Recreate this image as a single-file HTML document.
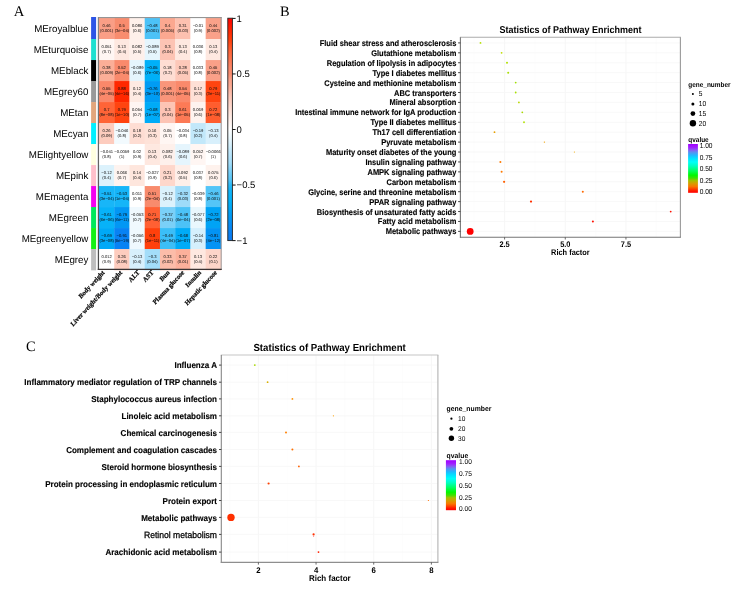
<!DOCTYPE html>
<html><head><meta charset="utf-8"><title>Figure</title>
<style>html,body{margin:0;padding:0;background:#fff;width:740px;height:589px;overflow:hidden}svg{display:block;will-change:transform}</style>
</head><body>
<svg width="740" height="589" viewBox="0 0 740 589" text-rendering="geometricPrecision">
<rect width="740" height="589" fill="#fff"/>
<g id="A">
<text x="13.8" y="15.8" font-family="'Liberation Serif', 'Times New Roman', serif" font-size="14.7">A</text>
<rect x="99.00" y="18.05" width="15.54" height="21.30" fill="#FA9E86"/>
<rect x="114.24" y="18.05" width="15.54" height="21.30" fill="#F88C6E"/>
<rect x="129.47" y="18.05" width="15.54" height="21.30" fill="#FEF0EA"/>
<rect x="144.71" y="18.05" width="15.54" height="21.30" fill="#4CC2F7"/>
<rect x="159.95" y="18.05" width="15.54" height="21.30" fill="#FBA890"/>
<rect x="175.19" y="18.05" width="15.54" height="21.30" fill="#FDC1B0"/>
<rect x="190.43" y="18.05" width="15.54" height="21.30" fill="#FFFFFF"/>
<rect x="205.66" y="18.05" width="15.54" height="21.30" fill="#FAA189"/>
<rect x="99.00" y="39.05" width="15.54" height="21.30" fill="#FFF6F3"/>
<rect x="114.24" y="39.05" width="15.54" height="21.30" fill="#FEE8E0"/>
<rect x="129.47" y="39.05" width="15.54" height="21.30" fill="#FEF0EB"/>
<rect x="144.71" y="39.05" width="15.54" height="21.30" fill="#E5F5FD"/>
<rect x="159.95" y="39.05" width="15.54" height="21.30" fill="#FDC4B4"/>
<rect x="175.19" y="39.05" width="15.54" height="21.30" fill="#FEE8E0"/>
<rect x="190.43" y="39.05" width="15.54" height="21.30" fill="#FFFFFF"/>
<rect x="205.66" y="39.05" width="15.54" height="21.30" fill="#FEE8E0"/>
<rect x="99.00" y="60.05" width="15.54" height="21.30" fill="#FBAE97"/>
<rect x="114.24" y="60.05" width="15.54" height="21.30" fill="#F98A6C"/>
<rect x="129.47" y="60.05" width="15.54" height="21.30" fill="#E5F5FD"/>
<rect x="144.71" y="60.05" width="15.54" height="21.30" fill="#00B0F8"/>
<rect x="159.95" y="60.05" width="15.54" height="21.30" fill="#FEDDD3"/>
<rect x="175.19" y="60.05" width="15.54" height="21.30" fill="#FDC8B9"/>
<rect x="190.43" y="60.05" width="15.54" height="21.30" fill="#FFFFFF"/>
<rect x="205.66" y="60.05" width="15.54" height="21.30" fill="#FAA088"/>
<rect x="99.00" y="81.05" width="15.54" height="21.30" fill="#FA886A"/>
<rect x="114.24" y="81.05" width="15.54" height="21.30" fill="#FF2800"/>
<rect x="129.47" y="81.05" width="15.54" height="21.30" fill="#FEEAE2"/>
<rect x="144.71" y="81.05" width="15.54" height="21.30" fill="#009CF4"/>
<rect x="159.95" y="81.05" width="15.54" height="21.30" fill="#F9957A"/>
<rect x="175.19" y="81.05" width="15.54" height="21.30" fill="#FA896B"/>
<rect x="190.43" y="81.05" width="15.54" height="21.30" fill="#FEE0D6"/>
<rect x="205.66" y="81.05" width="15.54" height="21.30" fill="#FF4410"/>
<rect x="99.00" y="102.05" width="15.54" height="21.30" fill="#FF6437"/>
<rect x="114.24" y="102.05" width="15.54" height="21.30" fill="#FF4410"/>
<rect x="129.47" y="102.05" width="15.54" height="21.30" fill="#FFF5F2"/>
<rect x="144.71" y="102.05" width="15.54" height="21.30" fill="#00ABF7"/>
<rect x="159.95" y="102.05" width="15.54" height="21.30" fill="#FDC4B4"/>
<rect x="175.19" y="102.05" width="15.54" height="21.30" fill="#FC7A56"/>
<rect x="190.43" y="102.05" width="15.54" height="21.30" fill="#FEF3EF"/>
<rect x="205.66" y="102.05" width="15.54" height="21.30" fill="#FF5D2E"/>
<rect x="99.00" y="123.05" width="15.54" height="21.30" fill="#FDCCBE"/>
<rect x="114.24" y="123.05" width="15.54" height="21.30" fill="#F2FAFE"/>
<rect x="129.47" y="123.05" width="15.54" height="21.30" fill="#FEDDD3"/>
<rect x="144.71" y="123.05" width="15.54" height="21.30" fill="#FEE2D8"/>
<rect x="159.95" y="123.05" width="15.54" height="21.30" fill="#FFF6F3"/>
<rect x="175.19" y="123.05" width="15.54" height="21.30" fill="#FFFFFF"/>
<rect x="190.43" y="123.05" width="15.54" height="21.30" fill="#C2E8FA"/>
<rect x="205.66" y="123.05" width="15.54" height="21.30" fill="#D8F0FC"/>
<rect x="99.00" y="144.05" width="15.54" height="21.30" fill="#FFFFFF"/>
<rect x="114.24" y="144.05" width="15.54" height="21.30" fill="#FFFFFF"/>
<rect x="129.47" y="144.05" width="15.54" height="21.30" fill="#FFFFFF"/>
<rect x="144.71" y="144.05" width="15.54" height="21.30" fill="#FEE8E0"/>
<rect x="159.95" y="144.05" width="15.54" height="21.30" fill="#FEF0EB"/>
<rect x="175.19" y="144.05" width="15.54" height="21.30" fill="#E5F5FD"/>
<rect x="190.43" y="144.05" width="15.54" height="21.30" fill="#FFF6F3"/>
<rect x="205.66" y="144.05" width="15.54" height="21.30" fill="#FFFFFF"/>
<rect x="99.00" y="165.05" width="15.54" height="21.30" fill="#DCF2FC"/>
<rect x="114.24" y="165.05" width="15.54" height="21.30" fill="#FEF3EF"/>
<rect x="129.47" y="165.05" width="15.54" height="21.30" fill="#FEE6DD"/>
<rect x="144.71" y="165.05" width="15.54" height="21.30" fill="#FFFFFF"/>
<rect x="159.95" y="165.05" width="15.54" height="21.30" fill="#FED7CB"/>
<rect x="175.19" y="165.05" width="15.54" height="21.30" fill="#FEEFE9"/>
<rect x="190.43" y="165.05" width="15.54" height="21.30" fill="#FFFFFF"/>
<rect x="205.66" y="165.05" width="15.54" height="21.30" fill="#FEF2ED"/>
<rect x="99.00" y="186.05" width="15.54" height="21.30" fill="#18B6F8"/>
<rect x="114.24" y="186.05" width="15.54" height="21.30" fill="#15B5F8"/>
<rect x="129.47" y="186.05" width="15.54" height="21.30" fill="#FFFFFF"/>
<rect x="144.71" y="186.05" width="15.54" height="21.30" fill="#F88B6D"/>
<rect x="159.95" y="186.05" width="15.54" height="21.30" fill="#DCF2FC"/>
<rect x="175.19" y="186.05" width="15.54" height="21.30" fill="#9EDBF9"/>
<rect x="190.43" y="186.05" width="15.54" height="21.30" fill="#FFFFFF"/>
<rect x="205.66" y="186.05" width="15.54" height="21.30" fill="#54C5F7"/>
<rect x="99.00" y="207.05" width="15.54" height="21.30" fill="#07B2F8"/>
<rect x="114.24" y="207.05" width="15.54" height="21.30" fill="#0297F4"/>
<rect x="129.47" y="207.05" width="15.54" height="21.30" fill="#F0F9FE"/>
<rect x="144.71" y="207.05" width="15.54" height="21.30" fill="#FF6033"/>
<rect x="159.95" y="207.05" width="15.54" height="21.30" fill="#7AD0F8"/>
<rect x="175.19" y="207.05" width="15.54" height="21.30" fill="#4CC2F7"/>
<rect x="190.43" y="207.05" width="15.54" height="21.30" fill="#E9F7FD"/>
<rect x="205.66" y="207.05" width="15.54" height="21.30" fill="#00A3F5"/>
<rect x="99.00" y="228.05" width="15.54" height="21.30" fill="#00A9F7"/>
<rect x="114.24" y="228.05" width="15.54" height="21.30" fill="#0882F4"/>
<rect x="129.47" y="228.05" width="15.54" height="21.30" fill="#EFF9FE"/>
<rect x="144.71" y="228.05" width="15.54" height="21.30" fill="#FF400C"/>
<rect x="159.95" y="228.05" width="15.54" height="21.30" fill="#3BBEF7"/>
<rect x="175.19" y="228.05" width="15.54" height="21.30" fill="#00ABF7"/>
<rect x="190.43" y="228.05" width="15.54" height="21.30" fill="#D4EFFC"/>
<rect x="205.66" y="228.05" width="15.54" height="21.30" fill="#0393F4"/>
<rect x="99.00" y="249.05" width="15.54" height="21.30" fill="#FFFFFF"/>
<rect x="114.24" y="249.05" width="15.54" height="21.30" fill="#FDCCBE"/>
<rect x="129.47" y="249.05" width="15.54" height="21.30" fill="#D8F0FC"/>
<rect x="144.71" y="249.05" width="15.54" height="21.30" fill="#A3DDF9"/>
<rect x="159.95" y="249.05" width="15.54" height="21.30" fill="#FCBCA9"/>
<rect x="175.19" y="249.05" width="15.54" height="21.30" fill="#FCB09B"/>
<rect x="190.43" y="249.05" width="15.54" height="21.30" fill="#FEE8E0"/>
<rect x="205.66" y="249.05" width="15.54" height="21.30" fill="#FDD5C9"/>
<defs><filter id="sb" x="-5%" y="-5%" width="110%" height="110%"><feGaussianBlur stdDeviation="0.22"/></filter></defs>
<g filter="url(#sb)"><g font-family="'Liberation Sans', Arial, Helvetica, sans-serif" font-size="20.75" fill="#111" text-rendering="geometricPrecision" text-anchor="middle" transform="scale(0.2)">
<text x="533.1" y="133.8">0.46</text><text x="533.1" y="160.2">(0.001)</text>
<text x="609.3" y="133.8">0.5</text><text x="609.3" y="160.2">(3e−04)</text>
<text x="685.5" y="133.8">0.086</text><text x="685.5" y="160.2">(0.6)</text>
<text x="761.7" y="133.8">−0.48</text><text x="761.7" y="160.2">(0.001)</text>
<text x="837.8" y="133.8">0.4</text><text x="837.8" y="160.2">(0.005)</text>
<text x="914.0" y="133.8">0.31</text><text x="914.0" y="160.2">(0.03)</text>
<text x="990.2" y="133.8">−0.01</text><text x="990.2" y="160.2">(0.9)</text>
<text x="1066.4" y="133.8">0.44</text><text x="1066.4" y="160.2">(0.002)</text>
<text x="533.1" y="238.8">0.051</text><text x="533.1" y="265.2">(0.7)</text>
<text x="609.3" y="238.8">0.13</text><text x="609.3" y="265.2">(0.4)</text>
<text x="685.5" y="238.8">0.082</text><text x="685.5" y="265.2">(0.5)</text>
<text x="761.7" y="238.8">−0.089</text><text x="761.7" y="265.2">(0.5)</text>
<text x="837.8" y="238.8">0.3</text><text x="837.8" y="265.2">(0.04)</text>
<text x="914.0" y="238.8">0.13</text><text x="914.0" y="265.2">(0.4)</text>
<text x="990.2" y="238.8">0.036</text><text x="990.2" y="265.2">(0.8)</text>
<text x="1066.4" y="238.8">0.13</text><text x="1066.4" y="265.2">(0.4)</text>
<text x="533.1" y="343.8">0.38</text><text x="533.1" y="370.2">(0.009)</text>
<text x="609.3" y="343.8">0.52</text><text x="609.3" y="370.2">(2e−04)</text>
<text x="685.5" y="343.8">−0.089</text><text x="685.5" y="370.2">(0.6)</text>
<text x="761.7" y="343.8">−0.65</text><text x="761.7" y="370.2">(7e−06)</text>
<text x="837.8" y="343.8">0.18</text><text x="837.8" y="370.2">(0.2)</text>
<text x="914.0" y="343.8">0.28</text><text x="914.0" y="370.2">(0.05)</text>
<text x="990.2" y="343.8">0.033</text><text x="990.2" y="370.2">(0.8)</text>
<text x="1066.4" y="343.8">0.45</text><text x="1066.4" y="370.2">(0.002)</text>
<text x="533.1" y="448.8">0.55</text><text x="533.1" y="475.2">(4e−05)</text>
<text x="609.3" y="448.8">0.88</text><text x="609.3" y="475.2">(4e−16)</text>
<text x="685.5" y="448.8">0.12</text><text x="685.5" y="475.2">(0.4)</text>
<text x="761.7" y="448.8">−0.76</text><text x="761.7" y="475.2">(3e−10)</text>
<text x="837.8" y="448.8">0.48</text><text x="837.8" y="475.2">(0.001)</text>
<text x="914.0" y="448.8">0.54</text><text x="914.0" y="475.2">(4e−05)</text>
<text x="990.2" y="448.8">0.17</text><text x="990.2" y="475.2">(0.3)</text>
<text x="1066.4" y="448.8">0.79</text><text x="1066.4" y="475.2">(3e−11)</text>
<text x="533.1" y="553.8">0.7</text><text x="533.1" y="580.2">(8e−08)</text>
<text x="609.3" y="553.8">0.79</text><text x="609.3" y="580.2">(1e−10)</text>
<text x="685.5" y="553.8">0.054</text><text x="685.5" y="580.2">(0.7)</text>
<text x="761.7" y="553.8">−0.68</text><text x="761.7" y="580.2">(1e−07)</text>
<text x="837.8" y="553.8">0.3</text><text x="837.8" y="580.2">(0.04)</text>
<text x="914.0" y="553.8">0.61</text><text x="914.0" y="580.2">(1e−05)</text>
<text x="990.2" y="553.8">0.069</text><text x="990.2" y="580.2">(0.6)</text>
<text x="1066.4" y="553.8">0.72</text><text x="1066.4" y="580.2">(1e−08)</text>
<text x="533.1" y="658.8">0.26</text><text x="533.1" y="685.2">(0.09)</text>
<text x="609.3" y="658.8">−0.046</text><text x="609.3" y="685.2">(0.8)</text>
<text x="685.5" y="658.8">0.18</text><text x="685.5" y="685.2">(0.2)</text>
<text x="761.7" y="658.8">0.16</text><text x="761.7" y="685.2">(0.3)</text>
<text x="837.8" y="658.8">0.05</text><text x="837.8" y="685.2">(0.7)</text>
<text x="914.0" y="658.8">−0.034</text><text x="914.0" y="685.2">(0.8)</text>
<text x="990.2" y="658.8">−0.19</text><text x="990.2" y="685.2">(0.2)</text>
<text x="1066.4" y="658.8">−0.13</text><text x="1066.4" y="685.2">(0.4)</text>
<text x="533.1" y="763.8">−0.041</text><text x="533.1" y="790.2">(0.8)</text>
<text x="609.3" y="763.8">−0.0059</text><text x="609.3" y="790.2">(1)</text>
<text x="685.5" y="763.8">0.02</text><text x="685.5" y="790.2">(0.9)</text>
<text x="761.7" y="763.8">0.13</text><text x="761.7" y="790.2">(0.4)</text>
<text x="837.8" y="763.8">0.082</text><text x="837.8" y="790.2">(0.6)</text>
<text x="914.0" y="763.8">−0.089</text><text x="914.0" y="790.2">(0.6)</text>
<text x="990.2" y="763.8">0.052</text><text x="990.2" y="790.2">(0.7)</text>
<text x="1066.4" y="763.8">−0.0066</text><text x="1066.4" y="790.2">(1)</text>
<text x="533.1" y="868.8">−0.12</text><text x="533.1" y="895.2">(0.4)</text>
<text x="609.3" y="868.8">0.066</text><text x="609.3" y="895.2">(0.7)</text>
<text x="685.5" y="868.8">0.14</text><text x="685.5" y="895.2">(0.4)</text>
<text x="761.7" y="868.8">−0.027</text><text x="761.7" y="895.2">(0.9)</text>
<text x="837.8" y="868.8">0.21</text><text x="837.8" y="895.2">(0.2)</text>
<text x="914.0" y="868.8">0.092</text><text x="914.0" y="895.2">(0.5)</text>
<text x="990.2" y="868.8">0.037</text><text x="990.2" y="895.2">(0.8)</text>
<text x="1066.4" y="868.8">0.075</text><text x="1066.4" y="895.2">(0.6)</text>
<text x="533.1" y="973.8">−0.51</text><text x="533.1" y="1000.2">(3e−04)</text>
<text x="609.3" y="973.8">−0.53</text><text x="609.3" y="1000.2">(1e−04)</text>
<text x="685.5" y="973.8">0.011</text><text x="685.5" y="1000.2">(0.9)</text>
<text x="761.7" y="973.8">0.51</text><text x="761.7" y="1000.2">(2e−04)</text>
<text x="837.8" y="973.8">−0.12</text><text x="837.8" y="1000.2">(0.4)</text>
<text x="914.0" y="973.8">−0.32</text><text x="914.0" y="1000.2">(0.03)</text>
<text x="990.2" y="973.8">−0.039</text><text x="990.2" y="1000.2">(0.8)</text>
<text x="1066.4" y="973.8">−0.46</text><text x="1066.4" y="1000.2">(0.001)</text>
<text x="533.1" y="1078.8">−0.61</text><text x="533.1" y="1105.2">(6e−06)</text>
<text x="609.3" y="1078.8">−0.79</text><text x="609.3" y="1105.2">(6e−11)</text>
<text x="685.5" y="1078.8">−0.053</text><text x="685.5" y="1105.2">(0.7)</text>
<text x="761.7" y="1078.8">0.71</text><text x="761.7" y="1105.2">(2e−08)</text>
<text x="837.8" y="1078.8">−0.37</text><text x="837.8" y="1105.2">(0.01)</text>
<text x="914.0" y="1078.8">−0.48</text><text x="914.0" y="1105.2">(6e−04)</text>
<text x="990.2" y="1078.8">−0.077</text><text x="990.2" y="1105.2">(0.6)</text>
<text x="1066.4" y="1078.8">−0.72</text><text x="1066.4" y="1105.2">(2e−08)</text>
<text x="533.1" y="1183.8">−0.69</text><text x="533.1" y="1210.2">(3e−08)</text>
<text x="609.3" y="1183.8">−0.91</text><text x="609.3" y="1210.2">(5e−19)</text>
<text x="685.5" y="1183.8">−0.056</text><text x="685.5" y="1210.2">(0.7)</text>
<text x="761.7" y="1183.8">0.8</text><text x="761.7" y="1210.2">(1e−11)</text>
<text x="837.8" y="1183.8">−0.49</text><text x="837.8" y="1210.2">(4e−04)</text>
<text x="914.0" y="1183.8">−0.68</text><text x="914.0" y="1210.2">(1e−07)</text>
<text x="990.2" y="1183.8">−0.14</text><text x="990.2" y="1210.2">(0.3)</text>
<text x="1066.4" y="1183.8">−0.81</text><text x="1066.4" y="1210.2">(4e−12)</text>
<text x="533.1" y="1288.8">0.012</text><text x="533.1" y="1315.2">(0.9)</text>
<text x="609.3" y="1288.8">0.26</text><text x="609.3" y="1315.2">(0.08)</text>
<text x="685.5" y="1288.8">−0.13</text><text x="685.5" y="1315.2">(0.4)</text>
<text x="761.7" y="1288.8">−0.3</text><text x="761.7" y="1315.2">(0.04)</text>
<text x="837.8" y="1288.8">0.33</text><text x="837.8" y="1315.2">(0.02)</text>
<text x="914.0" y="1288.8">0.37</text><text x="914.0" y="1315.2">(0.01)</text>
<text x="990.2" y="1288.8">0.13</text><text x="990.2" y="1315.2">(0.4)</text>
<text x="1066.4" y="1288.8">0.22</text><text x="1066.4" y="1315.2">(0.1)</text>
</g></g>
<line x1="98" y1="17.6" x2="221.7" y2="17.6" stroke="#8a8a8a" stroke-width="1"/>
<line x1="221.2" y1="17.1" x2="221.2" y2="269.9" stroke="#9a9292" stroke-width="1"/>
<defs><linearGradient id="lb" x1="0" y1="0" x2="0" y2="1"><stop offset="0" stop-color="#858585"/><stop offset="0.5" stop-color="#6a6a6a"/><stop offset="1" stop-color="#484848"/></linearGradient></defs>
<rect x="97.8" y="17.1" width="1.25" height="252.9" fill="url(#lb)"/>
<line x1="97.8" y1="269.4" x2="221.7" y2="269.4" stroke="#3a3434" stroke-width="1.1"/>
<rect x="91.1" y="17.00" width="5.0" height="22.35" fill="#2D55E6"/>
<rect x="91.1" y="39.05" width="5.0" height="21.30" fill="#1EE0D0"/>
<rect x="91.1" y="60.05" width="5.0" height="21.30" fill="#000000"/>
<rect x="91.1" y="81.05" width="5.0" height="21.30" fill="#999999"/>
<rect x="91.1" y="102.05" width="5.0" height="21.30" fill="#E2A67C"/>
<rect x="91.1" y="123.05" width="5.0" height="21.30" fill="#00F0FF"/>
<rect x="91.1" y="144.05" width="5.0" height="21.30" fill="#FFFFE0"/>
<rect x="91.1" y="165.05" width="5.0" height="21.30" fill="#FFC0CB"/>
<rect x="91.1" y="186.05" width="5.0" height="21.30" fill="#F500F0"/>
<rect x="91.1" y="207.05" width="5.0" height="21.30" fill="#00E85A"/>
<rect x="91.1" y="228.05" width="5.0" height="21.30" fill="#14F014"/>
<rect x="91.1" y="249.05" width="5.0" height="21.30" fill="#BEBEBE"/>
<g font-family="'Liberation Sans', Arial, Helvetica, sans-serif" font-size="9.75" fill="#000" text-anchor="end">
<text x="88.4" y="31.75">MEroyalblue</text>
<text x="88.4" y="52.75">MEturquoise</text>
<text x="88.4" y="73.75">MEblack</text>
<text x="88.4" y="94.75">MEgrey60</text>
<text x="88.4" y="115.75">MEtan</text>
<text x="88.4" y="136.75">MEcyan</text>
<text x="88.4" y="157.75">MElightyellow</text>
<text x="88.4" y="178.75">MEpink</text>
<text x="88.4" y="199.75">MEmagenta</text>
<text x="88.4" y="220.75">MEgreen</text>
<text x="88.4" y="241.75">MEgreenyellow</text>
<text x="88.4" y="262.75">MEgrey</text>
</g>
<g font-family="'Liberation Serif', 'Times New Roman', serif" font-size="6.4" font-weight="bold" fill="#000" stroke="#000" stroke-width="0.2" text-anchor="end">
<text transform="translate(105.02,273.05) scale(1,1.08) rotate(-45)">Body weight</text>
<text transform="translate(122.56,273.05) scale(1,1.08) rotate(-45)">Liver weight/Body weight</text>
<text transform="translate(139.99,273.05) scale(1,1.08) rotate(-45)">ALT</text>
<text transform="translate(154.13,273.05) scale(1,1.08) rotate(-45)">AST</text>
<text transform="translate(170.07,273.05) scale(1,1.08) rotate(-45)">Bun</text>
<text transform="translate(184.61,273.05) scale(1,1.08) rotate(-45)">Plasma glucose</text>
<text transform="translate(201.44,273.05) scale(1,1.08) rotate(-45)">Insulin</text>
<text transform="translate(217.38,273.05) scale(1,1.08) rotate(-45)">Hepatic glucose</text>
</g>
<defs><linearGradient id="hm" x1="0" y1="0" x2="0" y2="1">
<stop offset="0.000" stop-color="#FF0000"/>
<stop offset="0.025" stop-color="#FF1100"/>
<stop offset="0.050" stop-color="#FF2100"/>
<stop offset="0.075" stop-color="#FF3105"/>
<stop offset="0.100" stop-color="#FF400C"/>
<stop offset="0.125" stop-color="#FF5222"/>
<stop offset="0.150" stop-color="#FF6437"/>
<stop offset="0.175" stop-color="#FD7048"/>
<stop offset="0.200" stop-color="#FC7C59"/>
<stop offset="0.225" stop-color="#FA886A"/>
<stop offset="0.250" stop-color="#F88C6E"/>
<stop offset="0.275" stop-color="#FAA088"/>
<stop offset="0.300" stop-color="#FBA890"/>
<stop offset="0.325" stop-color="#FCB6A2"/>
<stop offset="0.350" stop-color="#FDC4B4"/>
<stop offset="0.375" stop-color="#FDCFC1"/>
<stop offset="0.400" stop-color="#FED9CE"/>
<stop offset="0.425" stop-color="#FEE4DB"/>
<stop offset="0.450" stop-color="#FEEDE7"/>
<stop offset="0.475" stop-color="#FFF6F3"/>
<stop offset="0.500" stop-color="#FFFFFF"/>
<stop offset="0.525" stop-color="#F0FAFE"/>
<stop offset="0.550" stop-color="#E2F4FC"/>
<stop offset="0.575" stop-color="#D1EEFB"/>
<stop offset="0.600" stop-color="#BEE6FA"/>
<stop offset="0.625" stop-color="#B1E1FA"/>
<stop offset="0.650" stop-color="#A3DDF9"/>
<stop offset="0.675" stop-color="#88D4F8"/>
<stop offset="0.700" stop-color="#6DCCF8"/>
<stop offset="0.725" stop-color="#59C6F7"/>
<stop offset="0.750" stop-color="#29BAF8"/>
<stop offset="0.775" stop-color="#11B4F8"/>
<stop offset="0.800" stop-color="#09B2F8"/>
<stop offset="0.825" stop-color="#00B0F8"/>
<stop offset="0.850" stop-color="#00A7F6"/>
<stop offset="0.875" stop-color="#009EF4"/>
<stop offset="0.900" stop-color="#0295F4"/>
<stop offset="0.925" stop-color="#058CF4"/>
<stop offset="0.950" stop-color="#0784F4"/>
<stop offset="0.975" stop-color="#0A7EF2"/>
<stop offset="1.000" stop-color="#0C78F0"/>
</linearGradient></defs>
<rect x="227.8" y="18.2" width="4.60" height="222.40" fill="url(#hm)" stroke="#222" stroke-width="0.9"/>
<g font-family="'Liberation Sans', Arial, Helvetica, sans-serif" font-size="9.5" fill="#000">
<line x1="232.4" y1="18.40" x2="235.6" y2="18.40" stroke="#111" stroke-width="1"/>
<text x="236.6" y="21.80">1</text>
<line x1="232.4" y1="73.95" x2="235.6" y2="73.95" stroke="#111" stroke-width="1"/>
<text x="236.6" y="77.35">0.5</text>
<line x1="232.4" y1="129.50" x2="235.6" y2="129.50" stroke="#111" stroke-width="1"/>
<text x="236.6" y="132.90">0</text>
<line x1="232.4" y1="185.05" x2="235.6" y2="185.05" stroke="#111" stroke-width="1"/>
<text x="236.6" y="188.45">−0.5</text>
<line x1="232.4" y1="240.60" x2="235.6" y2="240.60" stroke="#111" stroke-width="1"/>
<text x="236.6" y="244.00">−1</text>
</g>
</g>
<g id="B">
<text x="280" y="15.8" font-family="'Liberation Serif', 'Times New Roman', serif" font-size="14.4">B</text>
<rect x="460.4" y="37.3" width="220.00" height="200.00" fill="#fff"/>
<line x1="474.26" y1="37.3" x2="474.26" y2="237.3" stroke="#FBFBFB" stroke-width="0.6"/>
<line x1="534.94" y1="37.3" x2="534.94" y2="237.3" stroke="#FBFBFB" stroke-width="0.6"/>
<line x1="595.61" y1="37.3" x2="595.61" y2="237.3" stroke="#FBFBFB" stroke-width="0.6"/>
<line x1="656.29" y1="37.3" x2="656.29" y2="237.3" stroke="#FBFBFB" stroke-width="0.6"/>
<line x1="504.60" y1="37.3" x2="504.60" y2="237.3" stroke="#F4F4F4" stroke-width="0.8"/>
<line x1="565.27" y1="37.3" x2="565.27" y2="237.3" stroke="#F4F4F4" stroke-width="0.8"/>
<line x1="625.95" y1="37.3" x2="625.95" y2="237.3" stroke="#F4F4F4" stroke-width="0.8"/>
<line x1="460.4" y1="42.90" x2="680.4" y2="42.90" stroke="#F6F6F6" stroke-width="0.8"/>
<line x1="460.4" y1="52.82" x2="680.4" y2="52.82" stroke="#F6F6F6" stroke-width="0.8"/>
<line x1="460.4" y1="62.74" x2="680.4" y2="62.74" stroke="#F6F6F6" stroke-width="0.8"/>
<line x1="460.4" y1="72.66" x2="680.4" y2="72.66" stroke="#F6F6F6" stroke-width="0.8"/>
<line x1="460.4" y1="82.58" x2="680.4" y2="82.58" stroke="#F6F6F6" stroke-width="0.8"/>
<line x1="460.4" y1="92.50" x2="680.4" y2="92.50" stroke="#F6F6F6" stroke-width="0.8"/>
<line x1="460.4" y1="102.42" x2="680.4" y2="102.42" stroke="#F6F6F6" stroke-width="0.8"/>
<line x1="460.4" y1="112.34" x2="680.4" y2="112.34" stroke="#F6F6F6" stroke-width="0.8"/>
<line x1="460.4" y1="122.26" x2="680.4" y2="122.26" stroke="#F6F6F6" stroke-width="0.8"/>
<line x1="460.4" y1="132.18" x2="680.4" y2="132.18" stroke="#F6F6F6" stroke-width="0.8"/>
<line x1="460.4" y1="142.10" x2="680.4" y2="142.10" stroke="#F6F6F6" stroke-width="0.8"/>
<line x1="460.4" y1="152.02" x2="680.4" y2="152.02" stroke="#F6F6F6" stroke-width="0.8"/>
<line x1="460.4" y1="161.94" x2="680.4" y2="161.94" stroke="#F6F6F6" stroke-width="0.8"/>
<line x1="460.4" y1="171.86" x2="680.4" y2="171.86" stroke="#F6F6F6" stroke-width="0.8"/>
<line x1="460.4" y1="181.78" x2="680.4" y2="181.78" stroke="#F6F6F6" stroke-width="0.8"/>
<line x1="460.4" y1="191.70" x2="680.4" y2="191.70" stroke="#F6F6F6" stroke-width="0.8"/>
<line x1="460.4" y1="201.62" x2="680.4" y2="201.62" stroke="#F6F6F6" stroke-width="0.8"/>
<line x1="460.4" y1="211.54" x2="680.4" y2="211.54" stroke="#F6F6F6" stroke-width="0.8"/>
<line x1="460.4" y1="221.46" x2="680.4" y2="221.46" stroke="#F6F6F6" stroke-width="0.8"/>
<line x1="460.4" y1="231.38" x2="680.4" y2="231.38" stroke="#F6F6F6" stroke-width="0.8"/>
<circle cx="480.50" cy="42.90" r="0.9" fill="#B4E000"/>
<circle cx="501.60" cy="52.82" r="0.9" fill="#C0E000"/>
<circle cx="507.00" cy="62.74" r="1.0" fill="#B0E000"/>
<circle cx="508.20" cy="72.66" r="1.0" fill="#A8E000"/>
<circle cx="515.70" cy="82.58" r="0.9" fill="#A0E000"/>
<circle cx="515.70" cy="92.50" r="0.9" fill="#A8E000"/>
<circle cx="518.90" cy="102.42" r="0.9" fill="#B8D800"/>
<circle cx="522.30" cy="112.34" r="0.9" fill="#A8D800"/>
<circle cx="524.00" cy="122.26" r="0.9" fill="#B0E000"/>
<circle cx="494.50" cy="132.18" r="0.9" fill="#E8A000"/>
<circle cx="544.40" cy="142.10" r="0.7" fill="#F0A000"/>
<circle cx="574.40" cy="152.02" r="0.6" fill="#F0A800"/>
<circle cx="500.40" cy="161.94" r="1.0" fill="#FF7A00"/>
<circle cx="501.60" cy="171.86" r="1.0" fill="#FF7A00"/>
<circle cx="504.10" cy="181.78" r="1.1" fill="#FF6000"/>
<circle cx="582.80" cy="191.70" r="1.0" fill="#FF6A00"/>
<circle cx="531.00" cy="201.62" r="1.1" fill="#FF3000"/>
<circle cx="670.70" cy="211.54" r="0.9" fill="#FF1000"/>
<circle cx="592.90" cy="221.46" r="1.0" fill="#FF1000"/>
<circle cx="470.20" cy="231.38" r="3.4" fill="#FF0000"/>
<line x1="459.9" y1="37.3" x2="680.9" y2="37.3" stroke="#ABABAB" stroke-width="1.1"/>
<line x1="680.4" y1="37.3" x2="680.4" y2="237.3" stroke="#999999" stroke-width="1.1"/>
<line x1="460.4" y1="37.3" x2="460.4" y2="237.8" stroke="#777777" stroke-width="1.1"/>
<line x1="459.9" y1="237.3" x2="680.9" y2="237.3" stroke="#747474" stroke-width="1.1"/>
<g font-family="'Liberation Sans', Arial, Helvetica, sans-serif" font-size="7.48" font-weight="bold" fill="#000" stroke="#000" stroke-width="0.12" text-anchor="end">
<line x1="458.09999999999997" y1="42.90" x2="460.4" y2="42.90" stroke="#333" stroke-width="0.9"/>
<text transform="translate(456.30,45.90) scale(1,1.1)">Fluid shear stress and atherosclerosis</text>
<line x1="458.09999999999997" y1="52.82" x2="460.4" y2="52.82" stroke="#333" stroke-width="0.9"/>
<text transform="translate(456.30,55.82) scale(1,1.1)">Glutathione metabolism</text>
<line x1="458.09999999999997" y1="62.74" x2="460.4" y2="62.74" stroke="#333" stroke-width="0.9"/>
<text transform="translate(456.30,65.74) scale(1,1.1)">Regulation of lipolysis in adipocytes</text>
<line x1="458.09999999999997" y1="72.66" x2="460.4" y2="72.66" stroke="#333" stroke-width="0.9"/>
<text transform="translate(456.30,75.66) scale(1,1.1)">Type I diabetes mellitus</text>
<line x1="458.09999999999997" y1="82.58" x2="460.4" y2="82.58" stroke="#333" stroke-width="0.9"/>
<text transform="translate(456.30,85.58) scale(1,1.1)">Cysteine and methionine metabolism</text>
<line x1="458.09999999999997" y1="92.50" x2="460.4" y2="92.50" stroke="#333" stroke-width="0.9"/>
<text transform="translate(456.30,95.50) scale(1,1.1)">ABC transporters</text>
<line x1="458.09999999999997" y1="102.42" x2="460.4" y2="102.42" stroke="#333" stroke-width="0.9"/>
<text transform="translate(456.30,105.42) scale(1,1.1)">Mineral absorption</text>
<line x1="458.09999999999997" y1="112.34" x2="460.4" y2="112.34" stroke="#333" stroke-width="0.9"/>
<text transform="translate(456.30,115.34) scale(1,1.1)">Intestinal immune network for IgA production</text>
<line x1="458.09999999999997" y1="122.26" x2="460.4" y2="122.26" stroke="#333" stroke-width="0.9"/>
<text transform="translate(456.30,125.26) scale(1,1.1)">Type II diabetes mellitus</text>
<line x1="458.09999999999997" y1="132.18" x2="460.4" y2="132.18" stroke="#333" stroke-width="0.9"/>
<text transform="translate(456.30,135.18) scale(1,1.1)">Th17 cell differentiation</text>
<line x1="458.09999999999997" y1="142.10" x2="460.4" y2="142.10" stroke="#333" stroke-width="0.9"/>
<text transform="translate(456.30,145.10) scale(1,1.1)">Pyruvate metabolism</text>
<line x1="458.09999999999997" y1="152.02" x2="460.4" y2="152.02" stroke="#333" stroke-width="0.9"/>
<text transform="translate(456.30,155.02) scale(1,1.1)">Maturity onset diabetes of the young</text>
<line x1="458.09999999999997" y1="161.94" x2="460.4" y2="161.94" stroke="#333" stroke-width="0.9"/>
<text transform="translate(456.30,164.94) scale(1,1.1)">Insulin signaling pathway</text>
<line x1="458.09999999999997" y1="171.86" x2="460.4" y2="171.86" stroke="#333" stroke-width="0.9"/>
<text transform="translate(456.30,174.86) scale(1,1.1)">AMPK signaling pathway</text>
<line x1="458.09999999999997" y1="181.78" x2="460.4" y2="181.78" stroke="#333" stroke-width="0.9"/>
<text transform="translate(456.30,184.78) scale(1,1.1)">Carbon metabolism</text>
<line x1="458.09999999999997" y1="191.70" x2="460.4" y2="191.70" stroke="#333" stroke-width="0.9"/>
<text transform="translate(456.30,194.70) scale(1,1.1)">Glycine, serine and threonine metabolism</text>
<line x1="458.09999999999997" y1="201.62" x2="460.4" y2="201.62" stroke="#333" stroke-width="0.9"/>
<text transform="translate(456.30,204.62) scale(1,1.1)">PPAR signaling pathway</text>
<line x1="458.09999999999997" y1="211.54" x2="460.4" y2="211.54" stroke="#333" stroke-width="0.9"/>
<text transform="translate(456.30,214.54) scale(1,1.1)">Biosynthesis of unsaturated fatty acids</text>
<line x1="458.09999999999997" y1="221.46" x2="460.4" y2="221.46" stroke="#333" stroke-width="0.9"/>
<text transform="translate(456.30,224.46) scale(1,1.1)">Fatty acid metabolism</text>
<line x1="458.09999999999997" y1="231.38" x2="460.4" y2="231.38" stroke="#333" stroke-width="0.9"/>
<text transform="translate(456.30,234.38) scale(1,1.1)">Metabolic pathways</text>
</g>
<g font-family="'Liberation Sans', Arial, Helvetica, sans-serif" font-size="7.4" font-weight="bold" fill="#000" text-anchor="middle">
<line x1="504.60" y1="237.3" x2="504.60" y2="239.5" stroke="#444" stroke-width="0.8"/>
<text transform="translate(504.60,247.40) scale(1,1.1)">2.5</text>
<line x1="565.27" y1="237.3" x2="565.27" y2="239.5" stroke="#444" stroke-width="0.8"/>
<text transform="translate(565.27,247.40) scale(1,1.1)">5.0</text>
<line x1="625.95" y1="237.3" x2="625.95" y2="239.5" stroke="#444" stroke-width="0.8"/>
<text transform="translate(625.95,247.40) scale(1,1.1)">7.5</text>
</g>
<text transform="translate(570.40,255.10) scale(1,1.1)" font-family="'Liberation Sans', Arial, Helvetica, sans-serif" font-size="7.4" font-weight="bold" fill="#000" text-anchor="middle">Rich factor</text>
<text transform="translate(499.60,33.00) scale(1,1.1)" font-family="'Liberation Sans', Arial, Helvetica, sans-serif" font-size="8.99" font-weight="bold" fill="#000">Statistics of Pathway Enrichment</text>
<text transform="translate(688.30,86.90) scale(1,1.1)" font-family="'Liberation Sans', Arial, Helvetica, sans-serif" font-size="6.44" font-weight="bold" fill="#000">gene_number</text>
<circle cx="692.9" cy="94.1" r="1.0" fill="#000"/>
<text transform="translate(698.80,96.48) scale(1,1.1)" font-family="'Liberation Sans', Arial, Helvetica, sans-serif" font-size="6.6" fill="#000">5</text>
<circle cx="692.9" cy="103.9" r="1.5" fill="#000"/>
<text transform="translate(698.80,106.28) scale(1,1.1)" font-family="'Liberation Sans', Arial, Helvetica, sans-serif" font-size="6.6" fill="#000">10</text>
<circle cx="692.9" cy="113.6" r="2.4" fill="#000"/>
<text transform="translate(698.80,115.98) scale(1,1.1)" font-family="'Liberation Sans', Arial, Helvetica, sans-serif" font-size="6.6" fill="#000">15</text>
<circle cx="692.9" cy="123.3" r="3.2" fill="#000"/>
<text transform="translate(698.80,125.68) scale(1,1.1)" font-family="'Liberation Sans', Arial, Helvetica, sans-serif" font-size="6.6" fill="#000">20</text>
<text transform="translate(688.30,142.00) scale(1,1.1)" font-family="'Liberation Sans', Arial, Helvetica, sans-serif" font-size="6.44" font-weight="bold" fill="#000">qvalue</text>
<defs><linearGradient id="pbq" x1="0" y1="1" x2="0" y2="0"><stop offset="0" stop-color="#FF0000"/><stop offset="0.04" stop-color="#FF1800"/><stop offset="0.08" stop-color="#FF4400"/><stop offset="0.13" stop-color="#F87800"/><stop offset="0.19" stop-color="#D89C00"/><stop offset="0.25" stop-color="#A4C000"/><stop offset="0.3" stop-color="#40E000"/><stop offset="0.36" stop-color="#00F800"/><stop offset="0.45" stop-color="#00FF60"/><stop offset="0.55" stop-color="#00FFC0"/><stop offset="0.63" stop-color="#00FFF8"/><stop offset="0.7" stop-color="#00E4FF"/><stop offset="0.77" stop-color="#20B8FF"/><stop offset="0.83" stop-color="#5A90F0"/><stop offset="0.88" stop-color="#8A58F4"/><stop offset="0.93" stop-color="#A020FF"/><stop offset="1.0" stop-color="#A000FF"/></linearGradient></defs>
<rect x="688.1" y="144.0" width="9.80" height="48.80" fill="url(#pbq)"/>
<text transform="translate(699.70,148.38) scale(1,1.1)" font-family="'Liberation Sans', Arial, Helvetica, sans-serif" font-size="6.6" fill="#000">1.00</text>
<text transform="translate(699.70,159.88) scale(1,1.1)" font-family="'Liberation Sans', Arial, Helvetica, sans-serif" font-size="6.6" fill="#000">0.75</text>
<text transform="translate(699.70,171.38) scale(1,1.1)" font-family="'Liberation Sans', Arial, Helvetica, sans-serif" font-size="6.6" fill="#000">0.50</text>
<text transform="translate(699.70,182.78) scale(1,1.1)" font-family="'Liberation Sans', Arial, Helvetica, sans-serif" font-size="6.6" fill="#000">0.25</text>
<text transform="translate(699.70,194.18) scale(1,1.1)" font-family="'Liberation Sans', Arial, Helvetica, sans-serif" font-size="6.6" fill="#000">0.00</text>
</g>
<g id="C">
<text x="25.9" y="350.8" font-family="'Liberation Serif', 'Times New Roman', serif" font-size="14.4">C</text>
<rect x="221.3" y="355.0" width="216.60" height="207.40" fill="#fff"/>
<line x1="229.57" y1="355.0" x2="229.57" y2="562.4" stroke="#FBFBFB" stroke-width="0.6"/>
<line x1="287.23" y1="355.0" x2="287.23" y2="562.4" stroke="#FBFBFB" stroke-width="0.6"/>
<line x1="344.89" y1="355.0" x2="344.89" y2="562.4" stroke="#FBFBFB" stroke-width="0.6"/>
<line x1="402.55" y1="355.0" x2="402.55" y2="562.4" stroke="#FBFBFB" stroke-width="0.6"/>
<line x1="258.40" y1="355.0" x2="258.40" y2="562.4" stroke="#F4F4F4" stroke-width="0.8"/>
<line x1="316.06" y1="355.0" x2="316.06" y2="562.4" stroke="#F4F4F4" stroke-width="0.8"/>
<line x1="373.72" y1="355.0" x2="373.72" y2="562.4" stroke="#F4F4F4" stroke-width="0.8"/>
<line x1="431.38" y1="355.0" x2="431.38" y2="562.4" stroke="#F4F4F4" stroke-width="0.8"/>
<line x1="221.3" y1="365.10" x2="437.9" y2="365.10" stroke="#F6F6F6" stroke-width="0.8"/>
<line x1="221.3" y1="382.20" x2="437.9" y2="382.20" stroke="#F6F6F6" stroke-width="0.8"/>
<line x1="221.3" y1="398.90" x2="437.9" y2="398.90" stroke="#F6F6F6" stroke-width="0.8"/>
<line x1="221.3" y1="415.80" x2="437.9" y2="415.80" stroke="#F6F6F6" stroke-width="0.8"/>
<line x1="221.3" y1="432.40" x2="437.9" y2="432.40" stroke="#F6F6F6" stroke-width="0.8"/>
<line x1="221.3" y1="449.50" x2="437.9" y2="449.50" stroke="#F6F6F6" stroke-width="0.8"/>
<line x1="221.3" y1="466.40" x2="437.9" y2="466.40" stroke="#F6F6F6" stroke-width="0.8"/>
<line x1="221.3" y1="483.50" x2="437.9" y2="483.50" stroke="#F6F6F6" stroke-width="0.8"/>
<line x1="221.3" y1="500.50" x2="437.9" y2="500.50" stroke="#F6F6F6" stroke-width="0.8"/>
<line x1="221.3" y1="517.40" x2="437.9" y2="517.40" stroke="#F6F6F6" stroke-width="0.8"/>
<line x1="221.3" y1="534.40" x2="437.9" y2="534.40" stroke="#F6F6F6" stroke-width="0.8"/>
<line x1="221.3" y1="552.10" x2="437.9" y2="552.10" stroke="#F6F6F6" stroke-width="0.8"/>
<circle cx="254.80" cy="365.10" r="0.9" fill="#A8D800"/>
<circle cx="267.60" cy="382.20" r="0.9" fill="#D8B000"/>
<circle cx="292.40" cy="398.90" r="0.9" fill="#FF9000"/>
<circle cx="333.40" cy="415.80" r="0.6" fill="#FFA000"/>
<circle cx="286.00" cy="432.40" r="1.0" fill="#FF8000"/>
<circle cx="292.40" cy="449.50" r="1.0" fill="#FF7000"/>
<circle cx="298.90" cy="466.40" r="0.9" fill="#FF6000"/>
<circle cx="268.60" cy="483.50" r="1.1" fill="#FF4000"/>
<circle cx="428.40" cy="500.50" r="0.6" fill="#FF7000"/>
<circle cx="231.00" cy="517.40" r="3.7" fill="#FF3000"/>
<circle cx="313.60" cy="534.40" r="1.1" fill="#FF3000"/>
<circle cx="318.50" cy="552.10" r="0.9" fill="#FF2000"/>
<circle cx="313.60" cy="536.30" r="0.6" fill="#FF8C8C"/>
<line x1="220.8" y1="355.0" x2="438.4" y2="355.0" stroke="#C6C6C6" stroke-width="1.1"/>
<line x1="437.9" y1="355.0" x2="437.9" y2="562.4" stroke="#B2B2B2" stroke-width="1.1"/>
<line x1="221.3" y1="355.0" x2="221.3" y2="562.9" stroke="#868686" stroke-width="1.1"/>
<line x1="220.8" y1="562.4" x2="438.4" y2="562.4" stroke="#8E8E8E" stroke-width="1.1"/>
<g font-family="'Liberation Sans', Arial, Helvetica, sans-serif" font-size="8.04" font-weight="bold" fill="#000" stroke="#000" stroke-width="0.12" text-anchor="end">
<line x1="219.0" y1="365.10" x2="221.3" y2="365.10" stroke="#333" stroke-width="0.9"/>
<text transform="translate(217.00,368.30) scale(1,1.06)">Influenza A</text>
<line x1="219.0" y1="382.20" x2="221.3" y2="382.20" stroke="#333" stroke-width="0.9"/>
<text transform="translate(217.00,385.40) scale(1,1.06)">Inflammatory mediator regulation of TRP channels</text>
<line x1="219.0" y1="398.90" x2="221.3" y2="398.90" stroke="#333" stroke-width="0.9"/>
<text transform="translate(217.00,402.10) scale(1,1.06)">Staphylococcus aureus infection</text>
<line x1="219.0" y1="415.80" x2="221.3" y2="415.80" stroke="#333" stroke-width="0.9"/>
<text transform="translate(217.00,419.00) scale(1,1.06)">Linoleic acid metabolism</text>
<line x1="219.0" y1="432.40" x2="221.3" y2="432.40" stroke="#333" stroke-width="0.9"/>
<text transform="translate(217.00,435.60) scale(1,1.06)">Chemical carcinogenesis</text>
<line x1="219.0" y1="449.50" x2="221.3" y2="449.50" stroke="#333" stroke-width="0.9"/>
<text transform="translate(217.00,452.70) scale(1,1.06)">Complement and coagulation cascades</text>
<line x1="219.0" y1="466.40" x2="221.3" y2="466.40" stroke="#333" stroke-width="0.9"/>
<text transform="translate(217.00,469.60) scale(1,1.06)">Steroid hormone biosynthesis</text>
<line x1="219.0" y1="483.50" x2="221.3" y2="483.50" stroke="#333" stroke-width="0.9"/>
<text transform="translate(217.00,486.70) scale(1,1.06)">Protein processing in endoplasmic reticulum</text>
<line x1="219.0" y1="500.50" x2="221.3" y2="500.50" stroke="#333" stroke-width="0.9"/>
<text transform="translate(217.00,503.70) scale(1,1.06)">Protein export</text>
<line x1="219.0" y1="517.40" x2="221.3" y2="517.40" stroke="#333" stroke-width="0.9"/>
<text transform="translate(217.00,520.60) scale(1,1.06)">Metabolic pathways</text>
<line x1="219.0" y1="534.40" x2="221.3" y2="534.40" stroke="#333" stroke-width="0.9"/>
<text transform="translate(217.00,538.00) scale(1,1.06)" font-weight="normal" font-size="8.6" stroke="#000" stroke-width="0.25">Retinol metabolism</text>
<line x1="219.0" y1="552.10" x2="221.3" y2="552.10" stroke="#333" stroke-width="0.9"/>
<text transform="translate(217.00,555.30) scale(1,1.06)">Arachidonic acid metabolism</text>
</g>
<g font-family="'Liberation Sans', Arial, Helvetica, sans-serif" font-size="7.8" font-weight="bold" fill="#000" text-anchor="middle">
<line x1="258.40" y1="562.4" x2="258.40" y2="564.6" stroke="#444" stroke-width="0.8"/>
<text transform="translate(258.40,572.50) scale(1,1.06)">2</text>
<line x1="316.06" y1="562.4" x2="316.06" y2="564.6" stroke="#444" stroke-width="0.8"/>
<text transform="translate(316.06,572.50) scale(1,1.06)">4</text>
<line x1="373.72" y1="562.4" x2="373.72" y2="564.6" stroke="#444" stroke-width="0.8"/>
<text transform="translate(373.72,572.50) scale(1,1.06)">6</text>
<line x1="431.38" y1="562.4" x2="431.38" y2="564.6" stroke="#444" stroke-width="0.8"/>
<text transform="translate(431.38,572.50) scale(1,1.06)">8</text>
</g>
<text transform="translate(329.80,580.70) scale(1,1.06)" font-family="'Liberation Sans', Arial, Helvetica, sans-serif" font-size="8.0" font-weight="bold" fill="#000" text-anchor="middle">Rich factor</text>
<text transform="translate(253.40,350.50) scale(1,1.06)" font-family="'Liberation Sans', Arial, Helvetica, sans-serif" font-size="9.66" font-weight="bold" fill="#000">Statistics of Pathway Enrichment</text>
<text transform="translate(446.60,410.90) scale(1,1.06)" font-family="'Liberation Sans', Arial, Helvetica, sans-serif" font-size="6.84" font-weight="bold" fill="#000">gene_number</text>
<circle cx="451.4" cy="418.7" r="1.1" fill="#000"/>
<text transform="translate(458.00,421.08) scale(1,1.06)" font-family="'Liberation Sans', Arial, Helvetica, sans-serif" font-size="6.6" fill="#000">10</text>
<circle cx="451.4" cy="428.8" r="1.9" fill="#000"/>
<text transform="translate(458.00,431.18) scale(1,1.06)" font-family="'Liberation Sans', Arial, Helvetica, sans-serif" font-size="6.6" fill="#000">20</text>
<circle cx="451.4" cy="438.3" r="2.7" fill="#000"/>
<text transform="translate(458.00,440.68) scale(1,1.06)" font-family="'Liberation Sans', Arial, Helvetica, sans-serif" font-size="6.6" fill="#000">30</text>
<text transform="translate(446.60,458.10) scale(1,1.06)" font-family="'Liberation Sans', Arial, Helvetica, sans-serif" font-size="6.84" font-weight="bold" fill="#000">qvalue</text>
<defs><linearGradient id="pcq" x1="0" y1="1" x2="0" y2="0"><stop offset="0" stop-color="#FF0000"/><stop offset="0.04" stop-color="#FF1800"/><stop offset="0.08" stop-color="#FF4400"/><stop offset="0.13" stop-color="#F87800"/><stop offset="0.19" stop-color="#D89C00"/><stop offset="0.25" stop-color="#A4C000"/><stop offset="0.3" stop-color="#40E000"/><stop offset="0.36" stop-color="#00F800"/><stop offset="0.45" stop-color="#00FF60"/><stop offset="0.55" stop-color="#00FFC0"/><stop offset="0.63" stop-color="#00FFF8"/><stop offset="0.7" stop-color="#00E4FF"/><stop offset="0.77" stop-color="#20B8FF"/><stop offset="0.83" stop-color="#5A90F0"/><stop offset="0.88" stop-color="#8A58F4"/><stop offset="0.93" stop-color="#A020FF"/><stop offset="1.0" stop-color="#A000FF"/></linearGradient></defs>
<rect x="445.9" y="460.2" width="10.10" height="50.00" fill="url(#pcq)"/>
<text transform="translate(459.10,464.08) scale(1,1.06)" font-family="'Liberation Sans', Arial, Helvetica, sans-serif" font-size="6.6" fill="#000">1.00</text>
<text transform="translate(459.10,475.98) scale(1,1.06)" font-family="'Liberation Sans', Arial, Helvetica, sans-serif" font-size="6.6" fill="#000">0.75</text>
<text transform="translate(459.10,487.88) scale(1,1.06)" font-family="'Liberation Sans', Arial, Helvetica, sans-serif" font-size="6.6" fill="#000">0.50</text>
<text transform="translate(459.10,499.68) scale(1,1.06)" font-family="'Liberation Sans', Arial, Helvetica, sans-serif" font-size="6.6" fill="#000">0.25</text>
<text transform="translate(459.10,511.48) scale(1,1.06)" font-family="'Liberation Sans', Arial, Helvetica, sans-serif" font-size="6.6" fill="#000">0.00</text>
</g>
</svg>
</body></html>
